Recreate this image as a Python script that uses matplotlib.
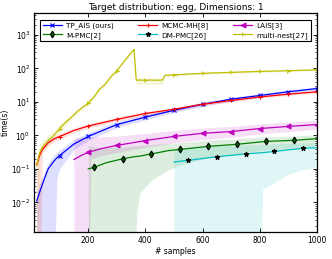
import numpy as np
import matplotlib.pyplot as plt

title = 'Target distribution: egg, Dimensions: 1'
xticks = [200, 400, 600, 800, 1000]

# TP_AIS (ours)
tp_x = [20, 30, 40, 50, 60, 80, 90, 100, 150, 200, 300, 400, 500, 600, 700, 800, 900, 1000]
tp_y = [0.011, 0.02, 0.035, 0.06, 0.1, 0.17, 0.21, 0.25, 0.55, 0.93, 2.1, 3.5, 5.6, 8.5, 12, 15.5, 20, 25]
tp_lo = [1e-5, 1e-5, 1e-5, 1e-5, 1e-5, 1e-5, 0.05, 0.1, 0.38, 0.7, 1.7, 2.9, 4.8, 7.4, 10.5, 13.8, 18, 22.5]
tp_hi = [0.02, 0.035, 0.056, 0.09, 0.15, 0.26, 0.31, 0.37, 0.75, 1.2, 2.6, 4.2, 6.6, 9.8, 13.6, 17.4, 22.2, 27.5]
tp_mk = [100, 200, 300, 400, 500, 600, 700, 800, 900, 1000]

# MCMC-MH[8]
mh_x = [20, 30, 40, 60, 80, 100, 150, 200, 300, 400, 500, 600, 700, 800, 900, 1000]
mh_y = [0.13, 0.25, 0.38, 0.6, 0.78, 0.92, 1.4, 1.9, 3.0, 4.5, 6.0, 8.5, 11, 14, 17, 20]
mh_lo = [1e-5, 1e-5, 0.3, 0.5, 0.66, 0.78, 1.2, 1.65, 2.65, 4.0, 5.4, 7.7, 10, 12.8, 15.6, 18.4]
mh_hi = [0.2, 0.35, 0.5, 0.75, 0.95, 1.1, 1.65, 2.2, 3.4, 5.0, 6.7, 9.4, 12, 15.3, 18.5, 21.7]
mh_mk = [100, 200, 300, 400, 500, 600, 700, 800, 900, 1000]

# LAIS[3]
lais_x = [150, 175, 200, 210, 250, 300, 400, 500, 600, 700, 800, 900, 1000]
lais_y = [0.19, 0.25, 0.31, 0.33, 0.41, 0.5, 0.7, 0.93, 1.15, 1.3, 1.6, 1.85, 2.1]
lais_lo = [1e-5, 1e-5, 1e-5, 0.2, 0.25, 0.31, 0.44, 0.6, 0.75, 0.87, 1.1, 1.3, 1.5]
lais_hi = [0.85, 0.85, 0.86, 0.87, 0.9, 0.95, 1.15, 1.4, 1.65, 1.85, 2.2, 2.5, 2.8]
lais_mk = [200, 300, 400, 500, 600, 700, 800, 900, 1000]

# M-PMC[2]
mp_x = [200, 220, 260, 320, 360, 370, 380, 420, 440, 480, 520, 620, 720, 820, 920, 1000]
mp_y = [0.1, 0.11, 0.15, 0.2, 0.23, 0.235, 0.24, 0.28, 0.3, 0.35, 0.38, 0.47, 0.54, 0.66, 0.71, 0.8]
mp_lo = [1e-5, 1e-5, 1e-5, 1e-5, 1e-5, 0.005, 0.019, 0.045, 0.058, 0.093, 0.13, 0.22, 0.28, 0.36, 0.42, 0.5]
mp_hi = [0.5, 0.45, 0.42, 0.45, 0.48, 0.49, 0.5, 0.53, 0.55, 0.58, 0.6, 0.72, 0.8, 0.9, 0.95, 1.05]
mp_mk = [220, 320, 420, 520, 620, 720, 820, 920]

# DM-PMC[26]
dm_x = [500, 550, 650, 750, 800, 810, 850, 900, 950, 1000]
dm_y = [0.16, 0.18, 0.23, 0.28, 0.3, 0.305, 0.33, 0.37, 0.41, 0.43]
dm_lo = [1e-5, 1e-5, 1e-5, 1e-5, 1e-5, 0.025, 0.038, 0.07, 0.095, 0.11]
dm_hi = [0.42, 0.44, 0.48, 0.52, 0.54, 0.54, 0.56, 0.58, 0.6, 0.6]
dm_mk = [550, 650, 750, 850, 950]

# multi-nest[27]
mn_x = [20, 30, 40, 60, 80, 100, 120, 140, 160, 180, 200, 220, 240, 260, 280, 300, 320, 340, 360,
        368, 380, 400, 420, 440, 460, 468, 480, 500, 600, 700, 800, 900, 1000]
mn_y = [0.13, 0.3, 0.45, 0.7, 1.0, 1.6, 2.4, 3.4, 5.0, 6.8, 9.3, 14, 24, 34, 57, 85, 140, 230, 370,
        44, 45, 44, 45, 44, 45, 62, 62, 64, 71, 76, 81, 85, 90]
mn_lo = [1e-5, 0.19, 0.3, 0.48, 0.72, 1.2, 1.9, 2.8, 4.2, 5.8, 8.2, 12.5, 21.5, 31, 52, 78, 130, 215, 345,
         33, 33, 33, 33, 33, 33, 57, 57, 59, 66, 71, 76, 80, 85]
mn_hi = [0.25, 0.5, 0.75, 1.05, 1.4, 2.1, 3.0, 4.1, 5.9, 7.8, 10.5, 15.5, 26.5, 37, 62, 92, 150, 245, 390,
         50, 50, 50, 50, 50, 50, 67, 67, 69, 76, 81, 86, 90, 95]
mn_mk = [100, 200, 300, 400, 500, 600, 700, 800, 900, 1000]

series = [
    ('TP_AIS (ours)', tp_x, tp_y, tp_lo, tp_hi, tp_mk, 'b', 'x'),
    ('MCMC-MH[8]', mh_x, mh_y, mh_lo, mh_hi, mh_mk, 'r', '+'),
    ('LAIS[3]', lais_x, lais_y, lais_lo, lais_hi, lais_mk, 'm', '<'),
    ('M-PMC[2]', mp_x, mp_y, mp_lo, mp_hi, mp_mk, 'g', 'd'),
    ('DM-PMC[26]', dm_x, dm_y, dm_lo, dm_hi, dm_mk, 'c', '*'),
    ('multi-nest[27]', mn_x, mn_y, mn_lo, mn_hi, mn_mk, 'y', '4'),
]

fig = plt.figure(figsize=(3.32, 2.59), dpi=100)
ax = fig.add_axes([0.102, 0.104, 0.853, 0.846])

handles = {}
for name, xs, ys, lo, hi, mk, col, m in series:
    ax.fill_between(xs, lo, hi, color=col, alpha=0.13, lw=0)
    idx = [xs.index(v) for v in mk]
    h, = ax.plot(xs, ys, color=col, lw=0.9, marker=m, markevery=idx, ms=3.5,
                 mew=0.8, mec=('k' if m in ('d', '*') else col),
                 mfc=('darkgreen' if m == 'd' else ('k' if m == '*' else col)), label=name)
    handles[name] = h

ax.set_yscale('log')
ax.set_xlim(10, 1000)
ax.set_ylim(1.3e-3, 4.5e3)
ax.set_xticks(xticks)
ax.tick_params(which='both', direction='in', top=True, right=True, labelsize=5.5, pad=2.5)
ax.tick_params(which='major', length=3, width=0.6)
ax.tick_params(which='minor', length=1.5, width=0.5)
for s in ax.spines.values():
    s.set_linewidth(0.9)

ax.set_xlabel('# samples', fontsize=5.5, labelpad=1.5)
ax.set_ylabel('time(s)', fontsize=5.5, labelpad=1)
ax.set_title(title, fontsize=6.5, pad=2)

order = ['TP_AIS (ours)', 'M-PMC[2]', 'MCMC-MH[8]', 'DM-PMC[26]', 'LAIS[3]', 'multi-nest[27]']
leg = ax.legend([handles[n] for n in order], order, ncol=3, fontsize=5.2, loc='upper left',
                bbox_to_anchor=(0.01, 0.985, 0.98, 0), mode='expand', fancybox=False,
                edgecolor='k', framealpha=1, handlelength=2.6, borderpad=0.35,
                labelspacing=0.35, columnspacing=1.0, handletextpad=0.6)
leg.get_frame().set_linewidth(0.8)

fig.savefig('out.png', dpi=100)
